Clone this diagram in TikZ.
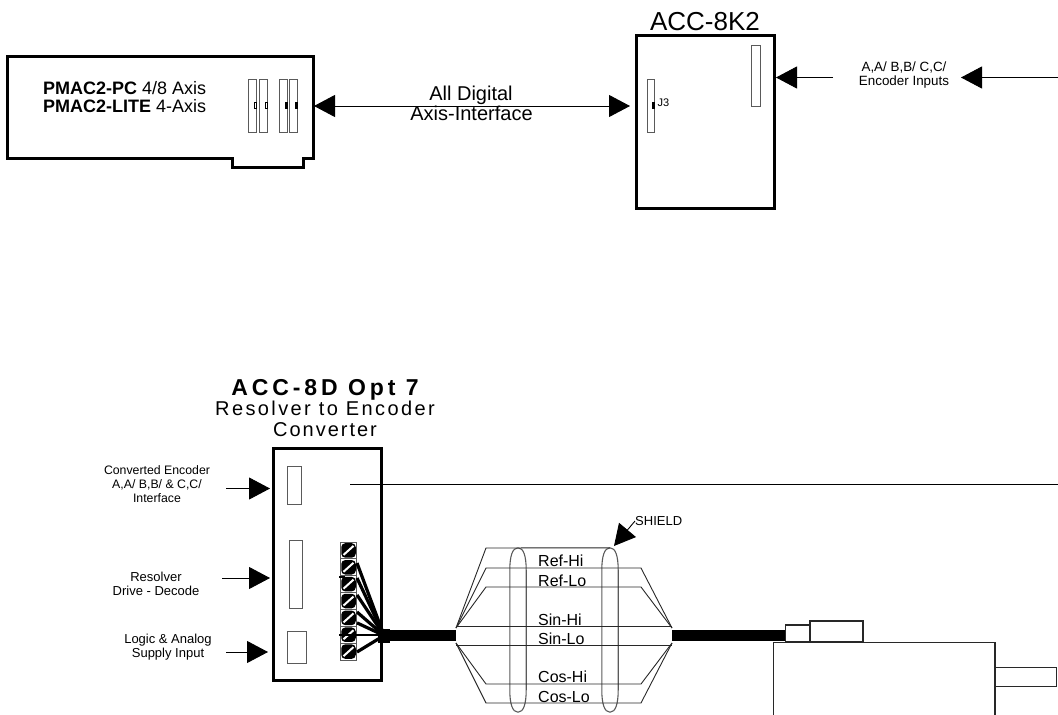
\documentclass[tikz,border=0pt]{standalone}
\usepackage{xcolor}
\usepackage{fontspec}
\setmainfont{Liberation Sans}
\usepackage{tikz}
\usetikzlibrary{
  shapes.geometric,
  arrows.meta,
  positioning,
  calc
}
\definecolor{WireGray}{RGB}{40,40,40}
\definecolor{SlotGray}{RGB}{90,90,90}
\newcommand{\fsz}[2]{\fontsize{#1}{#2}\selectfont}
\tikzset{
  %% boards
  board/.style = {
    rectangle, draw = black, line width = 3pt, inner sep = 0pt
  },
  slot/.style = {
    rectangle, draw = SlotGray, line width = 1pt, fill = white, inner sep = 0pt
  },
  pin/.style = {
    rectangle, draw = black, line width = 0.6pt, inner sep = 0pt,
    minimum width = 2.4pt, minimum height = 6pt
  },
  termcell/.style = {
    rectangle, draw = SlotGray, line width = 1pt, fill = white, inner sep = 0pt,
    minimum width = 16pt, minimum height = 16.86pt
  },
  screw/.style = {
    rectangle, rounded corners = 4pt, fill = black, inner sep = 0pt,
    minimum width = 14.5pt, minimum height = 14.5pt
  },
  outline/.style = {
    rectangle, draw = WireGray, line width = 1.2pt, fill = white, inner sep = 0pt
  },
  shieldring/.style = {
    rectangle, inner sep = 0pt, minimum width = 16pt, minimum height = 164pt
  },
  ringline/.style = {draw = SlotGray, line width = 1.1pt},
  %% labels
  small/.style = {align = center, inner sep = 0pt, font = \fsz{13}{14}},
  wirelbl/.style = {anchor = west, inner sep = 0pt, font = \fsz{16}{16}},
  %% arrows
  arr/.style  = {-{Triangle[length = 21pt, width = 22pt]}, line width = 0.9pt},
  darr/.style = {{Triangle[length = 21pt, width = 22pt]}-{Triangle[length = 21pt, width = 22pt]}, line width = 0.9pt},
  wire/.style = {line width = 0.9pt, color = WireGray},
  fan/.style  = {line width = 3.2pt, color = black},
  cable/.style = {line width = 11pt, color = black},
}

\begin{document}
\begin{tikzpicture}[x = 1pt, y = -1pt]
  \useasboundingbox (0,0) rectangle (1058,715);

  %% PMAC card
  \node[minimum width = 305pt, minimum height = 101pt, inner sep = 0pt] (pmac) at (160.5,107.5) {};
  \draw[line width = 3pt] (pmac.north west) -- (pmac.north east) -- (pmac.south east)
    -- ++(-10,0) -- ++(0,9) -- ++(-71,0) -- ++(0,-9) -- (pmac.south west) -- cycle;
  \node[anchor = north west, inner sep = 0pt, align = left, font = \fsz{18}{18}] (pmactxt) at (43,81)
    {\textbf{PMAC2-PC} 4/8 Axis\\\textbf{PMAC2-LITE} 4-Axis};
  \foreach \name/\xa/\fl in {pa/252.5/white, pb/263/white, pc/283.5/black, pd/293/black} {
    \node[slot, minimum width = 8pt, minimum height = 53pt] (\name) at (\xa,105.5) {};
    \node[pin, fill = \fl, anchor = east] at (\name.east) {};
  }

  %% ACC-8K2
  \node[board, minimum width = 138pt, minimum height = 173pt] (k2) at (705,121.5) {};
  \node[above=3pt of k2, inner sep = 0pt, font = \fsz{26}{26}] (k2title) {ACC-8K2};
  \node[slot, minimum width = 7pt, minimum height = 53pt] (j3) at (650.5,105.5) {};
  \node[pin, fill = black, anchor = east] (j3pin) at (j3.east) {};
  \node[right=3pt of j3, inner sep = 0pt, font = \fsz{11}{11}, yshift = 2.5pt] (j3txt) {J3};
  \node[slot, minimum width = 9pt, minimum height = 61pt] (k2enc) at (755.5,75.5) {};

  %% links
  \coordinate (pmacport) at (314,106);
  \coordinate (k2port) at (630,106);
  \coordinate (k2in) at (776,77.5);
  \coordinate (encstub) at (833,77.5);
  \coordinate (encin) at (961,77.5);
  \coordinate (encend) at (1058,77.5);
  \draw[darr] (pmacport) -- (k2port);
  \draw[arr] (encstub) -- (k2in);
  \draw[arr] (encend) -- (encin);
  \node[anchor = base, inner sep = 0pt, font = \fsz{20}{20}] (linktxt) at (471,100) {All Digital};
  \node[anchor = base, inner sep = 0pt, font = \fsz{20}{20}] (linktxtb) at (471.5,120) {Axis-Interface};
  \node[small, font = \fsz{13.4}{14}] (enctxt) at (904,75) {A,A/ B,B/ C,C/\\Encoder Inputs};

  %% ACC-8D
  \node[board, minimum width = 108.5pt, minimum height = 232pt] (acc) at (327.5,564) {};
  \node[anchor = base, inner sep = 0pt, font = \fsz{23}{23}\addfontfeature{LetterSpace = 17}\bfseries] (acctitle) at (325,395) {ACC-8D Opt 7};
  \node[anchor = base, inner sep = 0pt, font = \fsz{20}{20}\addfontfeature{LetterSpace = 12}] (accsub) at (325,415) {Resolver to Encoder};
  \node[anchor = base, inner sep = 0pt, font = \fsz{20}{20}\addfontfeature{LetterSpace = 10}] (accsubb) at (325,436) {Converter};
  \node[slot, minimum width = 14pt, minimum height = 38.5pt] (cnv) at (294,485.5) {};
  \node[slot, minimum width = 13pt, minimum height = 68pt] (drv) at (295.5,574) {};
  \node[slot, minimum width = 19pt, minimum height = 32pt] (sup) at (296.5,647.5) {};

  %% terminals
  \foreach \i in {1,...,7} {
    \node[termcell] (t\i) at (348.5,{542+16.86*(\i-0.5)}) {};
    \node[screw] (s\i) at (t\i.center) {};
    \draw[white, line width = 2pt] ([shift = {(-5pt,-4.5pt)}]s\i.center) -- ([shift = {(5pt,4.5pt)}]s\i.center);
  }

  %% input arrows
  \coordinate (cnvin) at (270,488.5);
  \coordinate (cnvtail) at (226,488.5);
  \coordinate (drvin) at (270,578);
  \coordinate (drvtail) at (222,578);
  \coordinate (supin) at (268,652);
  \coordinate (suptail) at (226,652);
  \draw[arr] (cnvtail) -- (cnvin);
  \draw[arr] (drvtail) -- (drvin);
  \draw[arr] (suptail) -- (supin);
  \node[small, font = \fsz{12.3}{14}] (cnvtxt) at (157,484.5) {Converted Encoder\\A,A/ B,B/ \& C,C/\\Interface};
  \node[small] (drvtxt) at (156,584) {Resolver\\Drive - Decode};
  \node[small] (suptxt) at (168,647) {Logic \& Analog\\Supply Input};

  %% encoder line
  \coordinate (enctap) at (350,484);
  \coordinate (encright) at (1058,484);
  \draw[line width = 0.9pt] (enctap) -- (encright);

  %% cable
  \node[fill = black, inner sep = 0pt, minimum width = 12pt, minimum height = 14pt] (hub) at (384,635.5) {};
  \coordinate (shl) at (456,635.5);
  \coordinate (shr) at (672,635.5);
  \node[outline, minimum width = 24.5pt, minimum height = 17pt] (plug) at (797.5,633.5) {};
  \node[outline, minimum width = 53pt, minimum height = 21pt] (cap) at (836.5,631.5) {};
  \draw[cable] (hub.center) -- (shl);
  \draw[cable] (shr) -- (plug.west |- shr);
  \foreach \i/\dy in {1/12.6,2/10.7,3/10.8,4/11,5/5,7/0.4}
    \draw[fan] ([yshift = -\dy pt]t\i.east) -- (hub.center);
  \draw[line width = 1.8pt] ([xshift = -1pt]t6.west) -- (hub.west |- t6.west);
  \draw[line width = 1.8pt] ([shift = {(-1pt,7pt)}]t3.west) -- ++(6,0);

  %% shield
  \node[shieldring] (shA) at (518,630) {};
  \node[shieldring] (shB) at (610,630) {};
  \foreach \r in {shA,shB}
    \draw[ringline] (\r.north) .. controls +(5.5,0) and +(0,-14) .. ($(\r.east)+(0,-60)$)
      -- ($(\r.east)+(0,60)$) .. controls +(0,14) and +(5.5,0) .. (\r.south)
      .. controls +(-5.5,0) and +(0,14) .. ($(\r.west)+(0,60)$)
      -- ($(\r.west)+(0,-60)$) .. controls +(0,-14) and +(-5.5,0) .. (\r.north);
  \node[anchor = west, inner sep = 0pt, font = \fsz{13}{13}] (shtxt) at (635,521) {SHIELD};
  \coordinate (shtip) at (614,546);
  \draw[arr] (shtxt.west) -- (shtip);

  %% shield wires
  \draw[wire] (456,628) -- (486,548) -- (shB.north);
  \foreach \ya in {568,587} \draw[wire] (456,628) -- (486,\ya) -- (641,\ya) -- (672,628);
  \foreach \ya in {684,703} \draw[wire] (456,643) -- (486,\ya) -- (641,\ya) -- (672,643);
  \draw[wire] (456,626) -- (672,626);
  \draw[wire] (456,645.5) -- (672,645.5);
  \node[wirelbl] (refhi) at (538,561) {Ref-Hi};
  \node[wirelbl] (reflo) at (538,581) {Ref-Lo};
  \node[wirelbl] (sinhi) at (538,620) {Sin-Hi};
  \node[wirelbl] (sinlo) at (538,639) {Sin-Lo};
  \node[wirelbl] (coshi) at (538,677) {Cos-Hi};
  \node[wirelbl] (coslo) at (538,697) {Cos-Lo};

  %% motor
  \coordinate (mtl) at (773.5,642.5);
  \coordinate (mtr) at (995,642.5);
  \draw[line width = 1.2pt, color = WireGray] (773.5,716) -- (mtl) -- (mtr) -- (995,716);
  \node[outline, anchor = west, minimum width = 60.5pt, minimum height = 18.5pt] (shaft) at (995,677) {};
\end{tikzpicture}
\end{document}
